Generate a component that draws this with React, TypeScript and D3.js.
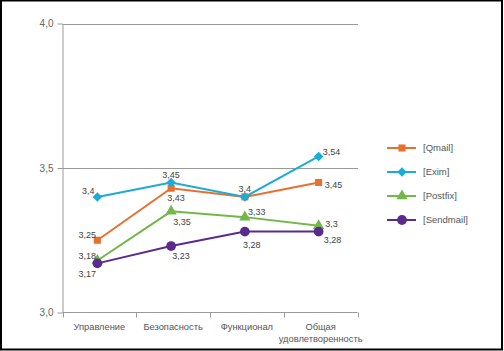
import React, { useEffect, useRef } from "react";
import * as d3 from "d3";

const categories = ["Управление", "Безопасность", "Функционал", "Общая удовлетворенность"];
const seriesNames = ["[Qmail]", "[Exim]", "[Postfix]", "[Sendmail]"];
const qmail = [3.25, 3.43, 3.4, 3.45];
const exim = [3.4, 3.45, 3.4, 3.54];
const postfix = [3.18, 3.35, 3.33, 3.3];
const sendmail = [3.17, 3.23, 3.28, 3.28];
const yTicks = [3.0, 3.5, 4.0];

const colors = ["#E8702E", "#1AACD6", "#72B848", "#5A2A8E"];
const markers = [d3.symbolSquare, d3.symbolSquare, d3.symbolTriangle, d3.symbolCircle];
const markerRotate = [0, 45, 0, 0];
const markerSizes = [50, 45, 55, 75];

// label offsets [dx, dy] relative to each point, null = hidden
const labelOffsets: ([number, number] | null)[][] = [
  [[-10, -5], [5, 10], null, [15, 2]],
  [[-9, -6], [0, -8], [0, -8], [13, -5]],
  [[-10, -5], [11, 10], [12, -5], [13, -2]],
  [[-10, 10], [10, 10], [7, 13], [14, 8]],
];

const App = () => {
  const svgRef = useRef<SVGSVGElement>(null);

  useEffect(() => {
    const width = 504;
    const height = 351;
    const svg = d3.select(svgRef.current);
    svg.selectAll("*").remove();

    svg.append("rect")
      .attr("x", 1).attr("y", 0.5)
      .attr("width", width - 3).attr("height", height - 2)
      .attr("fill", "#fff")
      .attr("stroke", "#000")
      .attr("stroke-width", 2);

    const x = d3.scaleBand().domain(categories).range([62.5, 357.5]);
    const y = d3.scaleLinear().domain([3.0, 4.0]).range([312.5, 23.5]);
    const font = "'Liberation Sans', Arial, sans-serif";

    // gridlines
    svg.selectAll(".grid")
      .data(yTicks.filter(d => d > 3))
      .enter()
      .append("line")
      .attr("x1", 62.5).attr("x2", 358)
      .attr("y1", d => Math.round(y(d)) + 0.5)
      .attr("y2", d => Math.round(y(d)) + 0.5)
      .attr("stroke", "#9a9a9a")
      .attr("stroke-width", 1);

    const yAxis = svg.append("g")
      .attr("transform", "translate(62.5,0)")
      .call(d3.axisLeft(y).tickValues(yTicks).tickSize(5).tickSizeOuter(0)
        .tickFormat(d => d3.format(".1f")(d as number).replace(".", ",")));
    yAxis.select(".domain").attr("stroke", "#9a9a9a");
    yAxis.selectAll("line").attr("stroke", "#9a9a9a");
    yAxis.selectAll("text")
      .attr("x", -9)
      .attr("fill", "#666")
      .style("font-family", font)
      .style("font-size", "10px");

    const xAxis = svg.append("g")
      .attr("transform", "translate(0,312.5)");
    xAxis.append("line")
      .attr("x1", 62.5).attr("x2", 357.5)
      .attr("stroke", "#9a9a9a");
    const edges = categories.map(c => x(c) as number).concat([357.5]);
    xAxis.selectAll(".tk")
      .data(edges)
      .enter()
      .append("line")
      .attr("x1", d => Math.round(d) + 0.5).attr("x2", d => Math.round(d) + 0.5)
      .attr("y1", 0).attr("y2", 5)
      .attr("stroke", "#9a9a9a");
    xAxis.selectAll(".cl")
      .data(categories)
      .enter()
      .append("text")
      .attr("x", d => (x(d) as number) + x.bandwidth() / 2)
      .attr("y", 17.5)
      .attr("text-anchor", "middle")
      .attr("fill", "#555")
      .style("font-family", font)
      .style("font-size", "9.3px")
      .each(function (d) {
        const words = d.split(" ");
        const t = d3.select(this);
        words.forEach((w, i) => {
          t.append("tspan")
            .attr("x", (x(d) as number) + x.bandwidth() / 2)
            .attr("dy", i === 0 ? 0 : 12)
            .text(w);
        });
      });

    const allSeries = [qmail, exim, postfix, sendmail];
    const px = (i: number) => (x(categories[i]) as number) + x.bandwidth() / 2 - 2;

    const line = d3.line<number>()
      .x((_, i) => px(i))
      .y(d => y(d));

    allSeries.forEach((vals, s) => {
      svg.append("path")
        .datum(vals)
        .attr("d", line)
        .attr("fill", "none")
        .attr("stroke", colors[s])
        .attr("stroke-width", 2);
    });

    allSeries.forEach((vals, s) => {
      svg.selectAll(`.m${s}`)
        .data(vals)
        .enter()
        .append("path")
        .attr("d", d3.symbol().type(markers[s]).size(markerSizes[s]))
        .attr("transform", (d, i) => `translate(${px(i)},${y(d)}) rotate(${markerRotate[s]})`)
        .attr("fill", colors[s]);

      const labelled = vals
        .map((v, i) => ({ v, i, off: labelOffsets[s][i] }))
        .filter(d => d.off !== null);

      svg.selectAll(`.l${s}`)
        .data(labelled)
        .enter()
        .append("text")
        .attr("x", d => px(d.i) + d.off![0])
        .attr("y", d => y(d.v) + d.off![1])
        .attr("text-anchor", "middle")
        .attr("dy", "0.35em")
        .attr("fill", "#444")
        .style("font-family", font)
        .style("font-size", "9px")
        .text(d => String(d.v).replace(".", ","));
    });

    // legend
    const legend = svg.append("g");
    seriesNames.forEach((name, s) => {
      const ly = 148 + s * 24;
      legend.append("line")
        .attr("x1", 387).attr("x2", 416)
        .attr("y1", ly).attr("y2", ly)
        .attr("stroke", colors[s])
        .attr("stroke-width", 2);
      legend.append("path")
        .attr("d", d3.symbol().type(markers[s]).size(markerSizes[s])())
        .attr("transform", `translate(402,${ly}) rotate(${markerRotate[s]})`)
        .attr("fill", colors[s]);
      legend.append("text")
        .attr("x", 423)
        .attr("y", ly)
        .attr("dy", "0.35em")
        .attr("fill", "#555")
        .style("font-family", font)
        .style("font-size", "9.5px")
        .text(name);
    });
  }, []);

  return (
    <svg
      ref={svgRef}
      width={504}
      height={351}
      style={{ position: "absolute", left: 0, top: 0 }}
    ></svg>
  );
};

export default App;
